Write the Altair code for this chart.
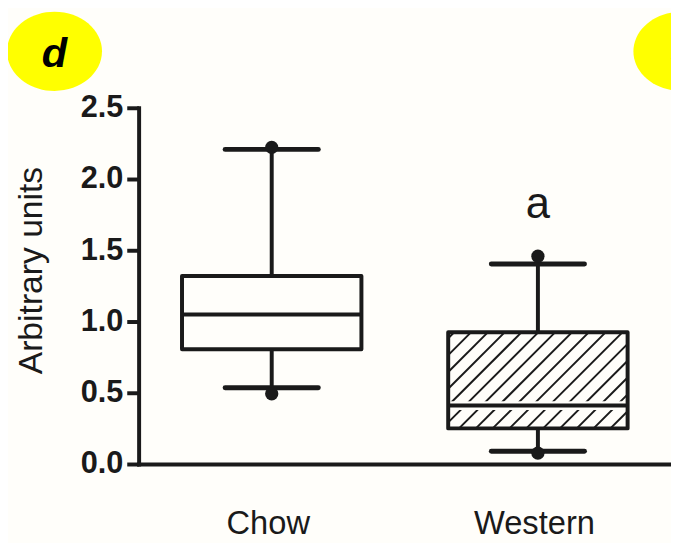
import altair as alt
import pandas as pd

# ---- data ----
categories = ["Chow", "Western"]
q1 = [0.806, 0.25]
median = [1.049, 0.41]
q3 = [1.319, 0.924]
whisker_low = [0.535, 0.09]
whisker_high = [2.208, 1.403]
min_points = [0.493, 0.076]
max_points = [2.222, 1.458]
hatched = [False, True]
sig_marks = ["", "a"]
y_ticks = [0.0, 0.5, 1.0, 1.5, 2.0, 2.5]
panel_labels = ["d", "e"]

# ---- layout / style ----
W, H = 538, 360
X_DOMAIN = [0, 2]
Y_DOMAIN = [0, 2.5]
BOX_HALF = 0.337
CAP_HALF = 0.175
INK = "#1a1a1a"
BG = "#fffefa"
YELLOW = "#ffff00"
FONT = "Liberation Sans"

pos = [i + 0.5 for i in range(len(categories))]
df = pd.DataFrame({
    "cat": categories, "pos": pos, "q1": q1, "median": median, "q3": q3,
    "wlo": whisker_low, "whi": whisker_high, "mn": min_points, "mx": max_points,
    "sig": sig_marks,
})
df["x0"] = df["pos"] - BOX_HALF
df["x1"] = df["pos"] + BOX_HALF
df["c0"] = df["pos"] - CAP_HALF
df["c1"] = df["pos"] + CAP_HALF

# hatch lines (45 degrees in pixel space) clipped to the hatched boxes
sxp = W / (X_DOMAIN[1] - X_DOMAIN[0])
syp = H / (Y_DOMAIN[1] - Y_DOMAIN[0])
SPACING = 17.0
hrows = []
for i in range(len(categories)):
    if not hatched[i]:
        continue
    x0p = (pos[i] - BOX_HALF) * sxp
    x1p = (pos[i] + BOX_HALF) * sxp
    y0p = q1[i] * syp
    y1p = q3[i] * syp
    h = y1p - y0p
    c = x0p - h + 6
    while c < x1p:
        if c >= x0p:
            ax, ay = c, y0p
        else:
            ax, ay = x0p, y0p + (x0p - c)
        ex = c + h
        if ex <= x1p:
            bx, by = ex, y1p
        else:
            bx, by = x1p, y0p + (x1p - c)
        if ay < by and ax < bx:
            hrows.append({"hx": ax / sxp, "hy": ay / syp, "hx2": bx / sxp, "hy2": by / syp})
        c += SPACING
hatch_df = pd.DataFrame(hrows)

label_expr = ""
for p, c in zip(pos, categories):
    label_expr += f"datum.value == {p} ? '{c}' : "
label_expr += "''"

xs = alt.Scale(domain=X_DOMAIN, nice=False, zero=False)
ys = alt.Scale(domain=Y_DOMAIN, nice=False)

x_axis = alt.Axis(values=pos, labelExpr=label_expr, ticks=False, tickSize=0,
                  domainWidth=4, domainColor=INK, domainCap="square",
                  labelFont=FONT, labelFontSize=33, labelColor=INK,
                  labelPadding=70, labelBaseline="alphabetic", labelOffset=-4,
                  labelFlush=False, labelOverlap=False, grid=False)
y_axis = alt.Axis(values=y_ticks, format=".1f", domainWidth=4, domainColor=INK,
                  domainCap="square", tickWidth=4, tickColor=INK, tickSize=12,
                  labelFont=FONT, labelFontWeight="bold", labelFontSize=31,
                  labelColor=INK, labelPadding=4, grid=False,
                  titleFont=FONT, titleFontSize=34, titleFontWeight="normal",
                  titleColor=INK, titleX=-108, titleY=164, titleAngle=270,
                  titleBaseline="middle", titleAlign="center")


def X(field):
    return alt.X(field, type="quantitative", scale=xs, axis=x_axis, title=None)


def Y(field):
    return alt.Y(field, type="quantitative", scale=ys, axis=y_axis, title="Arbitrary units")


base = alt.Chart(df)

box_fill = base.mark_rect(fill=BG, strokeWidth=0).encode(
    x=X("x0"), x2="x1", y=Y("q1"), y2="q3")

hatch = alt.Chart(hatch_df).mark_rule(color=INK, strokeWidth=2).encode(
    x=X("hx"), x2="hx2", y=Y("hy"), y2="hy2")

median_gap = base.mark_rule(color=BG, strokeWidth=9).encode(
    x=X("x0"), x2="x1", y=Y("median"))
median_line = base.mark_rule(color=INK, strokeWidth=4).encode(
    x=X("x0"), x2="x1", y=Y("median"))

box_outline = base.mark_rect(fill=BG, fillOpacity=0, stroke=INK, strokeWidth=4,
                             strokeJoin="round").encode(
    x=X("x0"), x2="x1", y=Y("q1"), y2="q3")

wh_up = base.mark_rule(color=INK, strokeWidth=4).encode(
    x=X("pos"), y=Y("q3"), y2="whi")
wh_dn = base.mark_rule(color=INK, strokeWidth=4).encode(
    x=X("pos"), y=Y("wlo"), y2="q1")
cap_up = base.mark_rule(color=INK, strokeWidth=5, strokeCap="round").encode(
    x=X("c0"), x2="c1", y=Y("whi"))
cap_dn = base.mark_rule(color=INK, strokeWidth=5, strokeCap="round").encode(
    x=X("c0"), x2="c1", y=Y("wlo"))
dot_up = base.mark_circle(color=INK, size=180, opacity=1).encode(x=X("pos"), y=Y("mx"))
dot_dn = base.mark_circle(color=INK, size=180, opacity=1).encode(x=X("pos"), y=Y("mn"))

sig = base.mark_text(font=FONT, fontSize=44, color=INK, baseline="alphabetic",
                     align="center", dy=-39).encode(x=X("pos"), y=Y("mx"), text="sig:N")

ELLIPSE = "M-1,0A1,0.833,0,1,1,1,0A1,0.833,0,1,1,-1,0Z"
lab1 = alt.Chart(pd.DataFrame({"t": [panel_labels[0]]}))
lab2 = alt.Chart(pd.DataFrame({"t": [panel_labels[1]]}))
ell1 = lab1.mark_point(shape=ELLIPSE, filled=True, size=9216, color=YELLOW,
                       opacity=1, strokeWidth=0).encode(x=alt.value(-85), y=alt.value(-57))
ell2 = lab2.mark_point(shape=ELLIPSE, filled=True, size=9216, color=YELLOW,
                       opacity=1, strokeWidth=0).encode(x=alt.value(548), y=alt.value(-57))
txt1 = lab1.mark_text(font=FONT, fontSize=42, fontWeight="bold", fontStyle="italic",
                      color="#000000", align="center", baseline="alphabetic").encode(
    x=alt.value(-85), y=alt.value(-41), text="t:N")
txt2 = lab2.mark_text(font=FONT, fontSize=42, fontWeight="bold", fontStyle="italic",
                      color="#000000", align="left", baseline="alphabetic").encode(
    x=alt.value(537), y=alt.value(-41), text="t:N")

chart = alt.layer(
    box_fill, hatch, median_gap, median_line, box_outline,
    wh_up, wh_dn, cap_up, cap_dn, dot_up, dot_dn, sig,
    ell1, ell2, txt1, txt2,
).properties(
    width=W, height=H,
    padding={"left": 132, "top": 98, "right": 0, "bottom": 77},
    autosize=alt.AutoSizeParams(type="none"),
    background=BG,
).configure_view(stroke=None)

chart.save("out.html", embed_options={"renderer": "svg", "actions": False})
